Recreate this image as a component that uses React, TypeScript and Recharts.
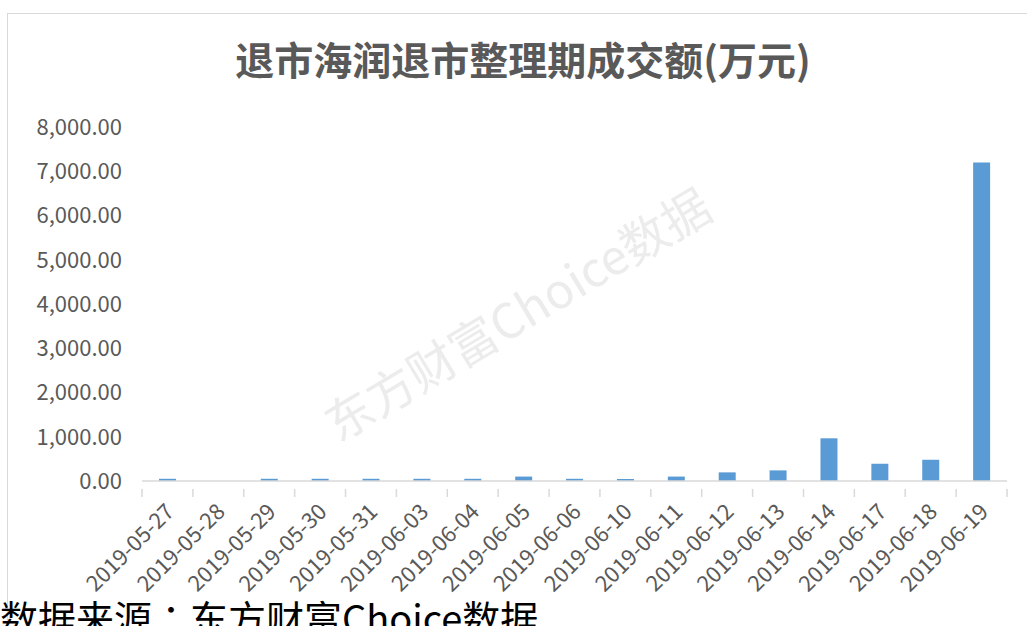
import React from 'react'
import { BarChart, Bar, XAxis, YAxis } from 'recharts'

const dates = [
  '2019-05-27', '2019-05-28', '2019-05-29', '2019-05-30', '2019-05-31',
  '2019-06-03', '2019-06-04', '2019-06-05', '2019-06-06', '2019-06-10',
  '2019-06-11', '2019-06-12', '2019-06-13', '2019-06-14', '2019-06-17',
  '2019-06-18', '2019-06-19'
]
const amounts = [
  50, 0, 50, 50, 50,
  50, 50, 100, 50, 45,
  100, 195, 240, 965, 390,
  480, 7200
]
const yTicks = [0, 1000, 2000, 3000, 4000, 5000, 6000, 7000, 8000]

const data = dates.map((d, i) => ({ date: d, amount: amounts[i] }))

const W = 1027
const H = 626
const MARGIN = { top: 127, right: 20, left: 12, bottom: 45 }
const Y_WIDTH = 130
const PLOT_W = W - MARGIN.left - MARGIN.right - Y_WIDTH
const BAND = PLOT_W / dates.length
const FONT = '"Noto Sans CJK SC", "Noto Sans", sans-serif'
const GRAY = '#595959'
const LINE = '#d9d9d9'

const fmt = (v: number) =>
  v.toLocaleString('en-US', { minimumFractionDigits: 2, maximumFractionDigits: 2 })

function DateTick(props: any) {
  const { x, y, index, payload } = props
  const left = x - BAND / 2
  const ax = x + 8
  const ay = y + 24
  return (
    <g>
      <line x1={left} y1={y} x2={left} y2={y + 8} stroke={LINE} strokeWidth={1.5} />
      {index === dates.length - 1 && (
        <line x1={x + BAND / 2} y1={y} x2={x + BAND / 2} y2={y + 8} stroke={LINE} strokeWidth={1.5} />
      )}
      <text
        x={ax}
        y={ay}
        textAnchor="end"
        fill={GRAY}
        fontSize={22}
        fontFamily={FONT}
        transform={`rotate(-45, ${ax}, ${ay})`}
      >
        {payload.value}
      </text>
    </g>
  )
}

export default function App() {
  return (
    <div style={{ position: 'absolute', left: 0, top: 0, width: W, height: H, overflow: 'hidden', background: '#fff' }}>
      <div style={{ position: 'absolute', left: 7, top: 13, width: W + 20, height: H + 20, border: `1px solid ${LINE}` }} />
      <div
        style={{
          position: 'absolute', left: 0, top: 39, width: 1046, textAlign: 'center',
          fontFamily: FONT, fontWeight: 700, fontSize: 39, lineHeight: 1, color: GRAY
        }}
      >
        退市海润退市整理期成交额(万元)
      </div>
      <div
        style={{
          position: 'absolute', left: 516, top: 312, transform: 'translate(-50%, -50%) rotate(-31deg)',
          fontFamily: FONT, fontSize: 48, lineHeight: 1, color: '#ececec', whiteSpace: 'nowrap'
        }}
      >
        东方财富Choice数据
      </div>
      <div style={{ position: 'absolute', left: 0, top: 0 }}>
        <BarChart width={W} height={H} data={data} margin={MARGIN} barSize={17}>
          <XAxis
            dataKey="date"
            interval={0}
            height={100}
            axisLine={{ stroke: LINE, strokeWidth: 1.5 }}
            tickLine={false}
            tick={<DateTick />}
          />
          <YAxis
            width={Y_WIDTH}
            domain={[0, 8000]}
            ticks={yTicks}
            axisLine={false}
            tickLine={false}
            tickSize={0}
            tickMargin={20}
            tickFormatter={fmt}
            tick={{ fill: GRAY, fontSize: 22, fontFamily: FONT }}
          />
          <Bar dataKey="amount" fill="#5b9bd5" isAnimationActive={false} />
        </BarChart>
      </div>
      <div
        style={{
          position: 'absolute', left: 0, top: 598, fontFamily: '"Noto Sans CJK TC", "Noto Sans CJK SC", sans-serif',
          fontSize: 38, lineHeight: 1, color: '#000', whiteSpace: 'nowrap'
        }}
      >
        数据来源：东方财富Choice数据
      </div>
    </div>
  )
}
